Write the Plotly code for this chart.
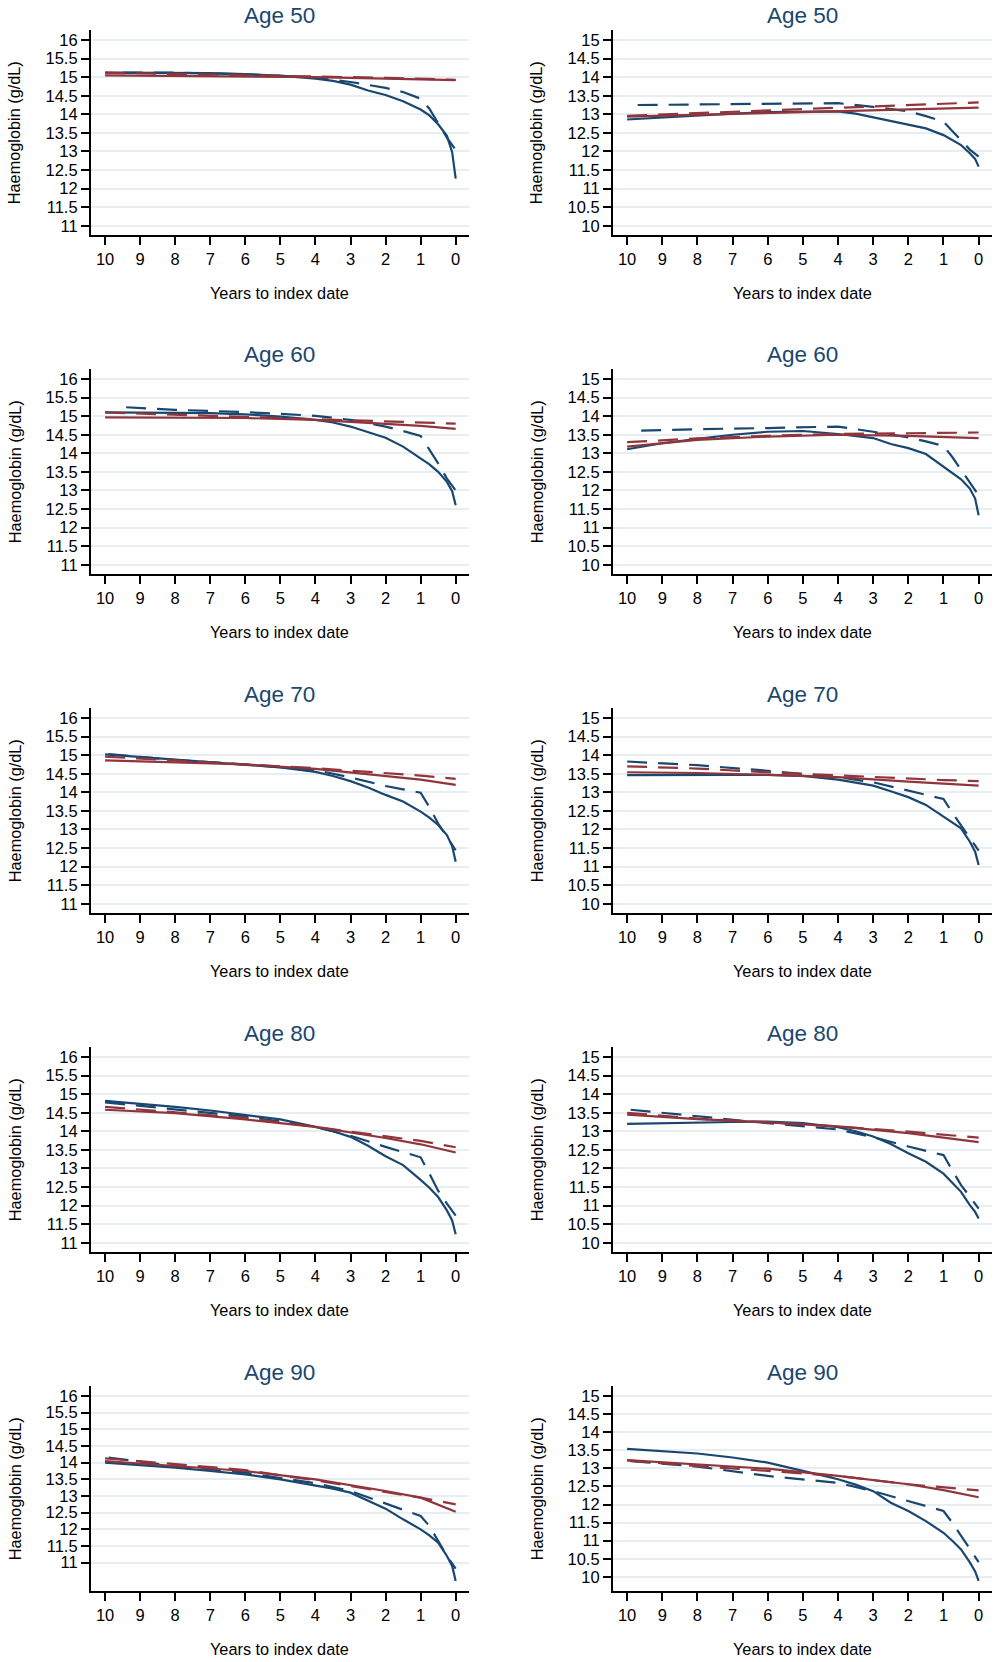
import plotly.graph_objects as go

# ---------------- data ----------------
AGES = ["Age 50", "Age 60", "Age 70", "Age 80", "Age 90"]

X_TICKS = [10, 9, 8, 7, 6, 5, 4, 3, 2, 1, 0]
X_TICK_LABELS = ["10", "9", "8", "7", "6", "5", "4", "3", "2", "1", "0"]
Y_TICKS_LEFT = [11, 11.5, 12, 12.5, 13, 13.5, 14, 14.5, 15, 15.5, 16]
Y_TICKS_RIGHT = [10, 10.5, 11, 11.5, 12, 12.5, 13, 13.5, 14, 14.5, 15]

# x positions (years to index date)
X_BLUE_SOLID = [10, 9, 8, 7, 6, 5, 4, 3.5, 3, 2.5, 2, 1.5, 1, 0.75, 0.5, 0.25, 0.1, 0]
X_BLUE_DASH = [None, 8, 6, 4, 3, 2, 1.5, 1, 0.75, 0.5, 0.25, 0]   # first value = panel start
X_RED = [10, 8, 6, 4, 2, 1, 0]

# start of the blue dashed line in each panel (left50, right50, left60, ...)
BLUE_DASH_START = [9.5, 9.7, 9.4, 9.6, 9.9, 10, 10, 9.9, 9.9, 9.9]

# ----- left column -----
L50_bs = [15.12, 15.12, 15.12, 15.11, 15.08, 15.04, 14.96, 14.9, 14.8, 14.64, 14.52, 14.35, 14.13, 13.97, 13.73, 13.42, 12.98, 12.27]
L50_bd = [15.12, 15.12, 15.08, 14.98, 14.87, 14.71, 14.6, 14.42, 14.15, 13.75, 13.37, 13.04]
L50_rs = [15.05, 15.04, 15.02, 15.0, 14.96, 14.94, 14.92]
L50_rd = [15.12, 15.09, 15.06, 15.02, 14.98, 14.955, 14.93]

L60_bs = [15.1, 15.1, 15.1, 15.08, 15.05, 14.99, 14.9, 14.83, 14.72, 14.58, 14.42, 14.18, 13.86, 13.7, 13.5, 13.23, 12.98, 12.6]
L60_bd = [15.24, 15.17, 15.11, 15.01, 14.9, 14.72, 14.6, 14.47, 14.1, 13.73, 13.32, 13.0]
L60_rs = [14.97, 14.96, 14.95, 14.9, 14.8, 14.74, 14.66]
L60_rd = [15.1, 15.04, 14.98, 14.92, 14.86, 14.83, 14.8]

L70_bs = [15.02, 14.95, 14.88, 14.83, 14.76, 14.67, 14.55, 14.44, 14.3, 14.13, 13.93, 13.75, 13.48, 13.32, 13.12, 12.85, 12.55, 12.13]
L70_bd = [15.03, 14.87, 14.75, 14.6, 14.4, 14.17, 14.08, 13.99, 13.6, 13.16, 12.8, 12.44]
L70_rs = [14.86, 14.8, 14.75, 14.63, 14.45, 14.34, 14.2]
L70_rd = [14.96, 14.85, 14.75, 14.65, 14.52, 14.45, 14.36]

L80_bs = [14.82, 14.75, 14.66, 14.56, 14.45, 14.32, 14.12, 14.0, 13.85, 13.61, 13.33, 13.09, 12.69, 12.48, 12.23, 11.87, 11.6, 11.23]
L80_bd = [14.78, 14.6, 14.4, 14.12, 13.88, 13.58, 13.45, 13.3, 12.86, 12.4, 12.05, 11.73]
L80_rs = [14.58, 14.49, 14.32, 14.12, 13.82, 13.65, 13.43]
L80_rd = [14.66, 14.5, 14.36, 14.12, 13.88, 13.74, 13.57]

L90_bs = [14.0, 13.93, 13.85, 13.75, 13.65, 13.5, 13.32, 13.22, 13.1, 12.85, 12.62, 12.3, 12.0, 11.82, 11.6, 11.2, 10.9, 10.45]
L90_bd = [14.15, 13.9, 13.7, 13.38, 13.15, 12.78, 12.6, 12.4, 12.1, 11.65, 11.2, 10.82]
L90_rs = [14.05, 13.9, 13.75, 13.5, 13.15, 12.95, 12.53]
L90_rd = [14.13, 13.95, 13.78, 13.47, 13.12, 12.95, 12.75]

# ----- right column -----
R50_bs = [12.86, 12.92, 12.97, 13.02, 13.06, 13.07, 13.08, 13.02, 12.92, 12.8, 12.71, 12.62, 12.44, 12.31, 12.17, 11.95, 11.8, 11.59]
R50_bd = [13.25, 13.26, 13.27, 13.3, 13.2, 13.08, 12.95, 12.8, 12.55, 12.3, 12.05, 11.86]
R50_rs = [12.94, 12.99, 13.04, 13.09, 13.14, 13.16, 13.18]
R50_rd = [12.96, 13.03, 13.1, 13.17, 13.24, 13.28, 13.32]

R60_bs = [13.11, 13.27, 13.39, 13.5, 13.58, 13.6, 13.52, 13.47, 13.41, 13.25, 13.14, 12.98, 12.64, 12.48, 12.3, 12.05, 11.78, 11.33]
R60_bd = [13.61, 13.65, 13.68, 13.72, 13.58, 13.43, 13.32, 13.2, 12.9, 12.55, 12.23, 11.87]
R60_rs = [13.18, 13.36, 13.45, 13.5, 13.47, 13.44, 13.41]
R60_rd = [13.3, 13.4, 13.47, 13.52, 13.54, 13.55, 13.56]

R70_bs = [13.46, 13.47, 13.47, 13.47, 13.47, 13.44, 13.34, 13.27, 13.18, 13.03, 12.87, 12.66, 12.35, 12.2, 12.03, 11.67, 11.4, 11.04]
R70_bd = [13.83, 13.73, 13.58, 13.41, 13.27, 13.05, 12.93, 12.82, 12.45, 12.12, 11.76, 11.43]
R70_rs = [13.54, 13.52, 13.47, 13.41, 13.29, 13.24, 13.18]
R70_rd = [13.7, 13.64, 13.54, 13.45, 13.36, 13.33, 13.3]

R80_bs = [13.2, 13.22, 13.23, 13.25, 13.26, 13.22, 13.11, 13.0, 12.86, 12.66, 12.41, 12.18, 11.86, 11.62, 11.37, 11.01, 10.83, 10.65]
R80_bd = [13.58, 13.4, 13.22, 13.05, 12.84, 12.59, 12.48, 12.36, 11.95, 11.55, 11.24, 10.92]
R80_rs = [13.45, 13.33, 13.24, 13.13, 12.95, 12.84, 12.71]
R80_rd = [13.5, 13.34, 13.24, 13.13, 12.99, 12.91, 12.83]

R90_bs = [13.54, 13.48, 13.41, 13.3, 13.16, 12.93, 12.7, 12.55, 12.37, 12.05, 11.82, 11.54, 11.22, 11.0, 10.76, 10.4, 10.15, 9.89]
R90_bd = [13.2, 13.05, 12.79, 12.6, 12.37, 12.09, 11.95, 11.82, 11.5, 11.13, 10.76, 10.41]
R90_rs = [13.23, 13.11, 12.99, 12.79, 12.56, 12.4, 12.2]
R90_rd = [13.22, 13.06, 12.93, 12.79, 12.56, 12.48, 12.39]

PANELS = [
    (L50_bs, L50_bd, L50_rs, L50_rd), (R50_bs, R50_bd, R50_rs, R50_rd),
    (L60_bs, L60_bd, L60_rs, L60_rd), (R60_bs, R60_bd, R60_rs, R60_rd),
    (L70_bs, L70_bd, L70_rs, L70_rd), (R70_bs, R70_bd, R70_rs, R70_rd),
    (L80_bs, L80_bd, L80_rs, L80_rd), (R80_bs, R80_bd, R80_rs, R80_rd),
    (L90_bs, L90_bd, L90_rs, L90_rd), (R90_bs, R90_bd, R90_rs, R90_rd),
]

# ---------------- layout ----------------
W, H = 1000, 1662
NAVY = "#1a476f"
MAROON = "#90353b"
GRID = "#e6eef2"
FONT = "Liberation Sans, Arial, sans-serif"
TICK_SIZE = 16.5

COL_X = [(90.7, 469.0), (612.7, 992.0)]
ROW_TOP0, ROW_STEP, PLOT_H = 30.0, 339.0, 205.0
Y_RANGE = {
    (0, 0): [10.75, 16.27], (0, 1): [9.75, 15.27],
    (4, 0): [10.15, 16.30], (4, 1): [9.61, 15.276],
}
X_RANGE = [10.41, -0.38]

fig = go.Figure()
layout = dict(
    width=W, height=H, margin=dict(l=0, r=0, t=0, b=0),
    paper_bgcolor="white", plot_bgcolor="white", showlegend=False,
    font=dict(family=FONT, size=16, color="black"),
)
annotations = []

for i, (bs, bd, rs, rd) in enumerate(PANELS):
    row, col = i // 2, i % 2
    suffix = "" if i == 0 else str(i + 1)
    xa, ya = "x" + suffix, "y" + suffix
    x0, x1 = COL_X[col]
    top = ROW_TOP0 + ROW_STEP * row
    bot = top + PLOT_H
    yr = Y_RANGE.get((row, col), Y_RANGE[(0, col)])
    yt = Y_TICKS_LEFT if col == 0 else Y_TICKS_RIGHT

    layout["xaxis" + suffix] = dict(
        domain=[x0 / W, x1 / W], anchor=ya, range=X_RANGE,
        tickmode="array", tickvals=X_TICKS, ticktext=X_TICK_LABELS,
        showline=True, linecolor="black", linewidth=1.6,
        ticks="outside", ticklen=8, tickwidth=1.6, tickcolor="black",
        showgrid=False, zeroline=False, tickfont=dict(size=TICK_SIZE, color="black"),
    )
    layout["yaxis" + suffix] = dict(
        domain=[1 - bot / H, 1 - top / H], anchor=xa, range=yr,
        tickmode="array", tickvals=yt, ticktext=[f"{v:g}" for v in yt],
        showline=True, linecolor="black", linewidth=1.6,
        ticks="outside", ticklen=8, tickwidth=1.6, tickcolor="black",
        showgrid=True, gridcolor=GRID, gridwidth=1.5, zeroline=False,
        tickfont=dict(size=TICK_SIZE, color="black"),
    )

    xbd = [BLUE_DASH_START[i]] + X_BLUE_DASH[1:]
    fig.add_trace(go.Scatter(x=X_BLUE_SOLID, y=bs, mode="lines", xaxis=xa, yaxis=ya,
                             line=dict(color=NAVY, width=2.2), hoverinfo="skip"))
    fig.add_trace(go.Scatter(x=xbd, y=bd, mode="lines", xaxis=xa, yaxis=ya,
                             line=dict(color=NAVY, width=2.2, dash="20px,11px"), hoverinfo="skip"))
    fig.add_trace(go.Scatter(x=X_RED, y=rs, mode="lines", xaxis=xa, yaxis=ya,
                             line=dict(color=MAROON, width=2.2), hoverinfo="skip"))
    fig.add_trace(go.Scatter(x=X_RED, y=rd, mode="lines", xaxis=xa, yaxis=ya,
                             line=dict(color=MAROON, width=2.2, dash="20px,11px"), hoverinfo="skip"))

    cx = (x0 + x1) / 2
    # panel title
    annotations.append(dict(text=AGES[row], x=cx / W, y=1 - (top - 14) / H,
                            xref="paper", yref="paper", showarrow=False,
                            xanchor="center", yanchor="middle",
                            font=dict(size=22.5, color=NAVY, family=FONT)))
    # x-axis title
    annotations.append(dict(text="Years to index date", x=cx / W, y=1 - (bot + 58) / H,
                            xref="paper", yref="paper", showarrow=False,
                            xanchor="center", yanchor="middle",
                            font=dict(size=16.3, color="black", family=FONT)))
    # y-axis title
    annotations.append(dict(text="Haemoglobin (g/dL)", x=(x0 - 76) / W, y=1 - (top + PLOT_H / 2) / H,
                            xref="paper", yref="paper", showarrow=False, textangle=-90,
                            xanchor="center", yanchor="middle",
                            font=dict(size=16.3, color="black", family=FONT)))

layout["annotations"] = annotations
fig.update_layout(**layout)

fig.write_html("out.html", config={"displayModeBar": False},
               post_script="document.body.style.margin='0px';")
